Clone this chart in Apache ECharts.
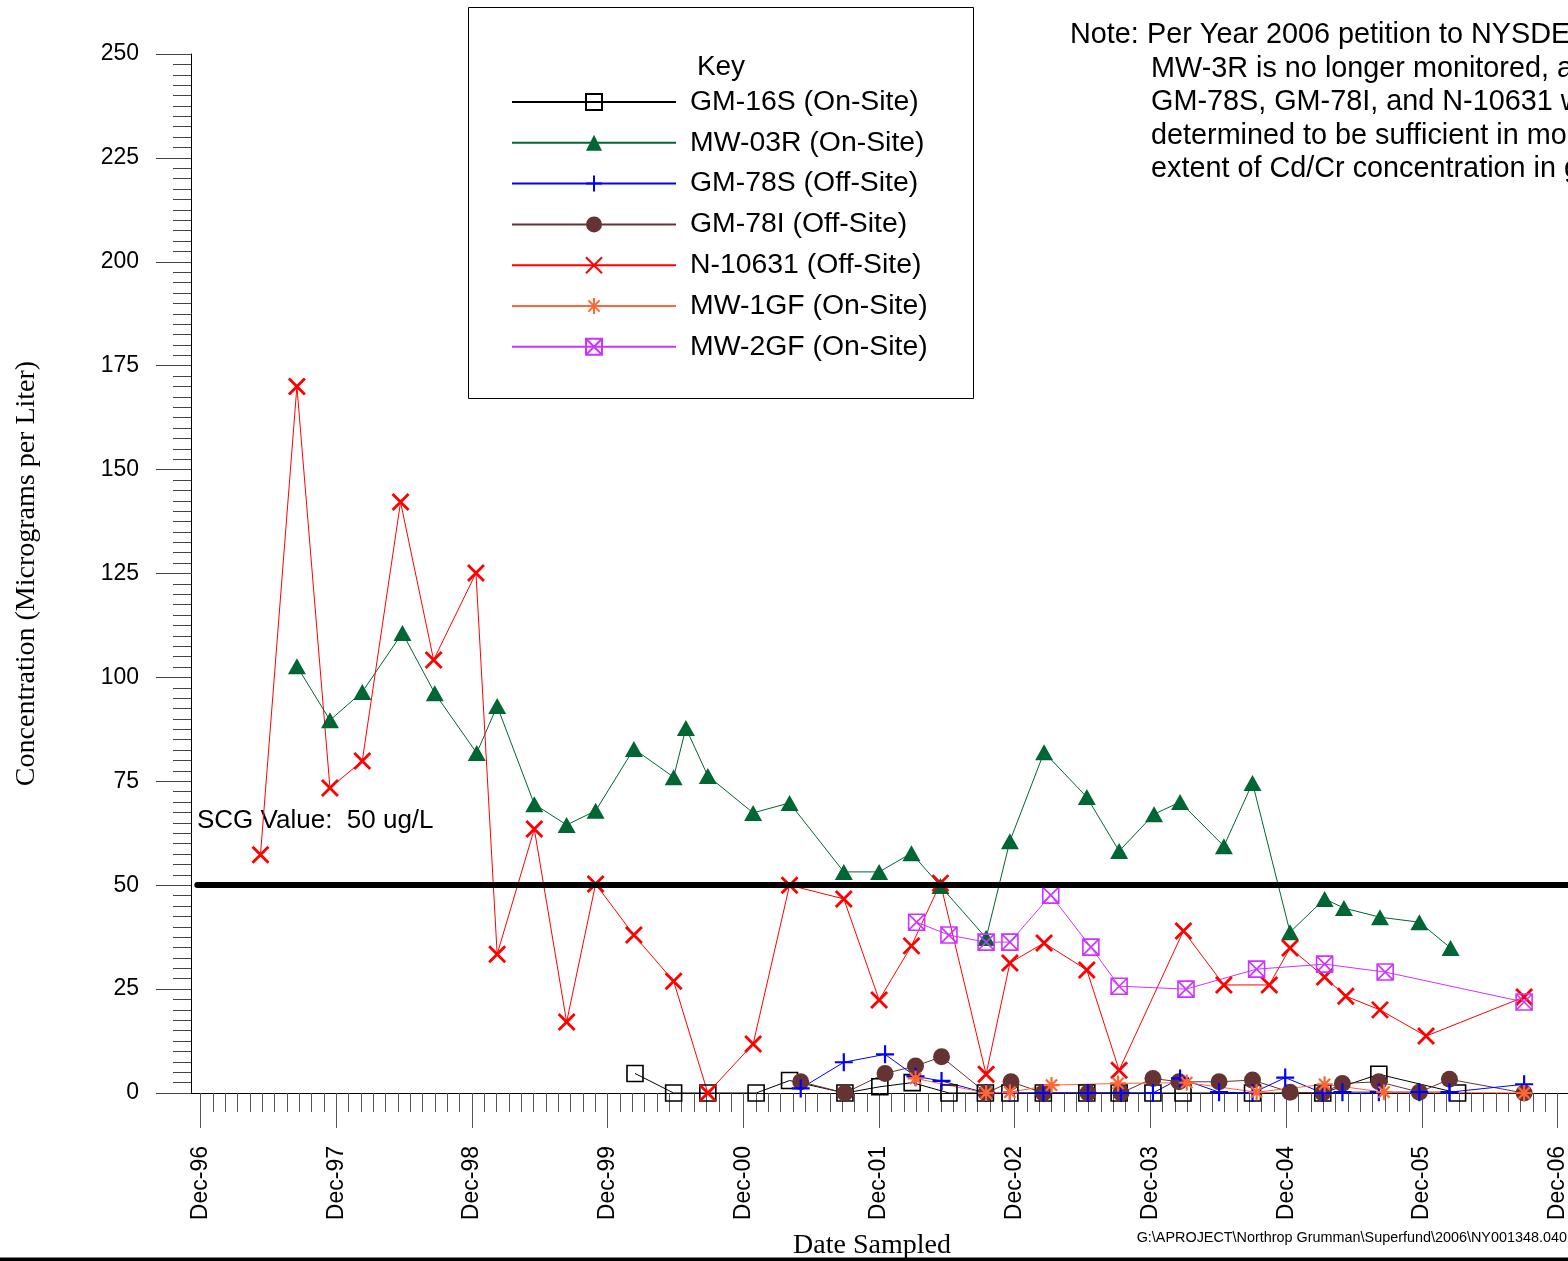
<!DOCTYPE html>
<html>
<head>
<meta charset="utf-8">
<script src="https://cdn.jsdelivr.net/npm/echarts@6/dist/echarts.min.js"></script>
<style>
  html, body { margin: 0; padding: 0; background: #ffffff; }
  #chart { width: 1568px; height: 1261px; }
</style>
</head>
<body>
<div id="chart"></div>
<script>
// ---- Sampling results, Cd/Cr concentration in ug/L ----
const gm16s = [
  ['2000-02-13', 4.7], ['2000-05-27', 0], ['2000-08-27', 0], ['2001-01-04', 0],
  ['2001-04-04', 3.0], ['2001-08-31', 0], ['2001-12-03', 1.5], ['2002-02-28', 2.5],
  ['2002-06-07', 0], ['2002-09-13', 0], ['2002-11-18', 0], ['2003-02-16', 0],
  ['2003-06-13', 0], ['2003-09-08', 0], ['2003-12-08', 0], ['2004-02-27', 0],
  ['2004-09-01', 0], ['2005-03-09', 0], ['2005-08-07', 4.5], ['2006-03-07', 0]
];
const mw03r = [
  ['1997-08-17', 102.7], ['1997-11-14', 89.7], ['1998-02-09', 96.5], ['1998-05-28', 110.7],
  ['1998-08-23', 96.2], ['1998-12-14', 81.8], ['1999-02-07', 93.1], ['1999-05-18', 69.5],
  ['1999-08-13', 64.5], ['1999-10-30', 67.9], ['2000-02-10', 82.8], ['2000-05-27', 76.0],
  ['2000-06-29', 87.8], ['2000-08-27', 76.3], ['2000-12-27', 67.4], ['2001-04-04', 69.8],
  ['2001-08-28', 53.2], ['2001-12-01', 53.2], ['2002-02-26', 57.7], ['2002-05-15', 49.8],
  ['2002-09-15', 37.3], ['2002-11-18', 60.6], ['2003-02-18', 82.0], ['2003-06-13', 71.2],
  ['2003-09-08', 58.2], ['2003-12-11', 67.1], ['2004-02-19', 70.0], ['2004-06-16', 59.4],
  ['2004-09-01', 74.6], ['2004-12-11', 38.7], ['2005-03-14', 46.7], ['2005-05-05', 44.5],
  ['2005-08-10', 42.3], ['2005-11-24', 41.1], ['2006-02-16', 34.9]
];
const gm78s = [
  ['2001-05-04', 1.1], ['2001-08-28', 7.4], ['2001-12-17', 9.3], ['2002-03-09', 4.0],
  ['2002-05-18', 2.9], ['2002-09-15', 0], ['2002-11-18', 0], ['2003-02-16', 0],
  ['2003-06-16', 0], ['2003-09-13', 0], ['2003-12-08', 0], ['2004-02-19', 3.5],
  ['2004-06-03', 0.2], ['2004-09-01', 0], ['2004-11-28', 3.7], ['2005-03-09', 0],
  ['2005-05-01', 0.2], ['2005-08-07', 0.2], ['2005-11-24', 0.2], ['2006-02-13', 0.2],
  ['2006-09-02', 2.1]
];
const gm78i = [
  ['2001-05-04', 2.7], ['2001-08-31', 0], ['2001-12-17', 4.7], ['2002-03-09', 6.5],
  ['2002-05-18', 8.7], ['2002-09-15', 0], ['2002-11-21', 2.7], ['2003-02-16', 0],
  ['2003-06-16', 0], ['2003-09-13', 0], ['2003-12-08', 3.5], ['2004-02-16', 2.7],
  ['2004-06-03', 2.7], ['2004-09-01', 3.1], ['2004-12-11', 0.2], ['2005-03-09', 0],
  ['2005-05-01', 2.3], ['2005-08-07', 2.7], ['2005-11-24', 0.2], ['2006-02-13', 3.3],
  ['2006-09-02', 0]
];
const n10631 = [
  ['1997-05-11', 57.3], ['1997-08-17', 170.0], ['1997-11-14', 73.4], ['1998-02-09', 79.9],
  ['1998-05-23', 142.2], ['1998-08-20', 104.2], ['1998-12-12', 125.1], ['1999-02-07', 33.4],
  ['1999-05-18', 63.5], ['1999-08-13', 17.1], ['1999-10-30', 50.3], ['2000-02-10', 38.0],
  ['2000-05-27', 26.9], ['2000-08-27', 0], ['2000-12-27', 11.8], ['2001-04-04', 50.0],
  ['2001-08-28', 46.7], ['2001-12-01', 22.4], ['2002-02-26', 35.4], ['2002-05-15', 50.5],
  ['2002-09-15', 4.5], ['2002-11-18', 31.3], ['2003-02-18', 36.1], ['2003-06-13', 29.6],
  ['2003-09-08', 5.5], ['2004-02-28', 39.0], ['2004-06-16', 26.0], ['2004-10-16', 26.0],
  ['2004-12-11', 34.9], ['2005-03-14', 27.9], ['2005-05-10', 23.3], ['2005-08-10', 20.0],
  ['2005-12-12', 13.7], ['2006-09-02', 23.1]
];
const mw1gf = [
  ['2002-03-09', 3.5], ['2002-09-15', 0], ['2002-11-18', 0.2], ['2003-03-10', 1.9],
  ['2003-09-05', 2.3], ['2004-03-08', 2.5], ['2004-09-12', 0.2], ['2005-03-14', 2.1],
  ['2005-08-21', 0.2], ['2006-09-02', 0]
];
const mw2gf = [
  ['2002-03-12', 41.1], ['2002-06-07', 38.0], ['2002-09-15', 36.3], ['2002-11-18', 36.3],
  ['2003-03-08', 47.6], ['2003-06-24', 35.1], ['2003-09-08', 25.7], ['2004-03-06', 25.0],
  ['2004-09-12', 29.8], ['2005-03-14', 31.0], ['2005-08-24', 29.1], ['2006-09-02', 21.9]
];

// Standards, Criteria and Guidance value
const scgValue = 50;

// Axis range and ticks
const axisStart = '1996-11-05';
const axisEnd = '2007-03-01';
const scgLineStart = '1996-11-22';
const tickYears = [1996, 1997, 1998, 1999, 2000, 2001, 2002, 2003, 2004, 2005, 2006, 2007];
const yMin = 0, yMax = 250, yStep = 25;

const noteLines = [
  'Per Year 2006 petition to NYSDEC,',
  'MW-3R is no longer monitored, and',
  'GM-78S, GM-78I, and N-10631 were',
  'determined to be sufficient in monitoring',
  'extent of Cd/Cr concentration in groundwater.'
];
const filePath = 'G:\\APROJECT\\Northrop Grumman\\Superfund\\2006\\NY001348.040';

// ---- helpers ----
const toTime = s => { const p = s.split('-').map(Number); return new Date(p[0], p[1] - 1, p[2]).getTime(); };
const toPoints = arr => arr.map(d => [toTime(d[0]), d[1]]);

const majorTicks = tickYears.map(y => new Date(y, 11, 1).getTime());
const minorTicks = [];
for (let i = 0; i < majorTicks.length - 1; i++) {
  const a = majorTicks[i], b = majorTicks[i + 1];
  for (let k = 1; k < 11; k++) minorTicks.push(a + (b - a) * k / 11);
}

const SANS = '"Liberation Sans", Arial, Helvetica, sans-serif';
const SERIF = '"Liberation Serif", "Times New Roman", serif';

const SYM_PLUS = 'path://M0,5L10,5M5,0L5,10';
const SYM_CROSS = 'path://M0,0L10,10M10,0L0,10';
const SYM_STAR = 'path://M5,0L5,10M0,5L10,5M1.5,1.5L8.5,8.5M8.5,1.5L1.5,8.5';
const SYM_BOXCROSS = 'path://M0,0L10,0L10,10L0,10ZM0,0L10,10M10,0L0,10';

function lineSeries(name, data, color, symbol, size, fill, borderWidth) {
  return {
    name: name,
    type: 'line',
    data: toPoints(data),
    symbol: symbol,
    symbolSize: size,
    showAllSymbol: true,
    lineStyle: { color: color, width: 1 },
    itemStyle: { color: fill, borderColor: color, borderWidth: borderWidth },
    emphasis: { disabled: true },
    silent: true,
    z: 3
  };
}

const names = [
  'GM-16S (On-Site)', 'MW-03R (On-Site)', 'GM-78S (Off-Site)', 'GM-78I (Off-Site)',
  'N-10631 (Off-Site)', 'MW-1GF (On-Site)', 'MW-2GF (On-Site)'
];

const chart = echarts.init(document.getElementById('chart'), null, { renderer: 'canvas' });

const dateAxisBase = {
  type: 'value',
  min: toTime(axisStart),
  max: toTime(axisEnd),
  position: 'bottom',
  splitLine: { show: false },
  minorTick: { show: false },
  minorSplitLine: { show: false }
};

const option = {
  animation: false,
  backgroundColor: '#ffffff',
  // the plotting area runs past the right edge of the page
  grid: { left: 191, top: 54, width: 1400, height: 1039, containLabel: false, outerBoundsMode: 'none' },
  xAxis: [
    Object.assign({}, dateAxisBase, {
      axisLine: { show: true, onZero: false, lineStyle: { color: '#000', width: 1 } },
      axisTick: { show: true, customValues: majorTicks, length: 35, lineStyle: { color: '#555', width: 1 } },
      axisLabel: {
        show: true, customValues: majorTicks, rotate: 90, margin: 53,
        fontSize: 23, fontFamily: SANS, color: '#000',
        formatter: v => 'Dec-' + String(new Date(v).getFullYear()).slice(2)
      }
    }),
    Object.assign({}, dateAxisBase, {
      axisLine: { show: false, onZero: false },
      axisTick: { show: true, customValues: minorTicks, length: 19, lineStyle: { color: '#555', width: 1 } },
      axisLabel: { show: false }
    })
  ],
  yAxis: {
    type: 'value',
    min: yMin, max: yMax, interval: yStep,
    name: 'Concentration (Micrograms per Liter)',
    nameLocation: 'middle',
    nameGap: 150,
    nameTextStyle: { fontSize: 28, fontFamily: SERIF, color: '#000' },
    axisLine: { show: true, onZero: false, lineStyle: { color: '#000', width: 1 } },
    axisTick: { show: true, length: 35, lineStyle: { color: '#444', width: 1 } },
    minorTick: { show: true, splitNumber: 10, length: 18, lineStyle: { color: '#444', width: 1 } },
    axisLabel: { margin: 52, fontSize: 23, fontFamily: SANS, color: '#000' },
    splitLine: { show: false },
    minorSplitLine: { show: false }
  },
  legend: {
    orient: 'vertical',
    left: 511, top: 88,
    padding: 0,
    itemWidth: 164, itemHeight: 20, itemGap: 12.8,
    selectedMode: false,
    data: names,
    textStyle: { fontSize: 28.4, lineHeight: 28, fontFamily: SANS, color: '#000', padding: [0, 0, 0, 9] }
  },
  series: [
    lineSeries(names[0], gm16s, '#000000', 'rect', 16, 'rgba(255,255,255,0)', 1.6),
    lineSeries(names[1], mw03r, '#006633', 'triangle', [18, 16], '#006633', 0),
    lineSeries(names[3], gm78i, '#663333', 'circle', 17, '#663333', 0),
    lineSeries(names[2], gm78s, '#0000FF', SYM_PLUS, 18, 'rgba(0,0,0,0)', 2.2),
    lineSeries(names[4], n10631, '#FF0000', SYM_CROSS, 16, 'rgba(0,0,0,0)', 2.8),
    lineSeries(names[5], mw1gf, '#FF6633', SYM_STAR, 16, 'rgba(0,0,0,0)', 2.2),
    lineSeries(names[6], mw2gf, '#CC33FF', SYM_BOXCROSS, 16, 'rgba(0,0,0,0)', 1.6),
    {
      name: 'SCG',
      type: 'line',
      data: [],
      silent: true,
      markLine: {
        silent: true,
        symbol: ['none', 'none'],
        label: { show: false },
        lineStyle: { color: '#000', width: 6, type: 'solid', cap: 'round' },
        data: [[{ coord: [toTime(scgLineStart), scgValue] }, { coord: [toTime(axisEnd), scgValue] }]]
      },
      z: 2
    }
  ],
  graphic: [
    { type: 'rect', shape: { x: 468.5, y: 7.5, width: 505, height: 391 },
      style: { fill: 'none', stroke: '#000', lineWidth: 1 }, z: 1 },
    { type: 'text', x: 721, y: 67,
      style: { text: 'Key', font: '28px ' + SANS, fill: '#000', align: 'center', verticalAlign: 'middle' } },
    { type: 'text', x: 197, y: 821,
      style: { text: 'SCG Value:  ' + scgValue + ' ug/L', font: '26px ' + SANS, fill: '#000', align: 'left', verticalAlign: 'middle' } },
    { type: 'text', x: 1070, y: 35,
      style: { text: 'Note:', font: '28.8px ' + SANS, fill: '#000', align: 'left', verticalAlign: 'middle' } }
  ].concat(noteLines.map((t, i) => ({
    type: 'text', x: i === 0 ? 1147 : 1151, y: 35 + i * 33.6,
    style: { text: t, font: '28.8px ' + SANS, fill: '#000', align: 'left', verticalAlign: 'middle' }
  }))).concat([
    { type: 'text', x: 872, y: 1246,
      style: { text: 'Date Sampled', font: '28px ' + SERIF, fill: '#000', align: 'center', verticalAlign: 'middle' } },
    { type: 'text', x: 1567, y: 1238,
      style: { text: filePath, font: '14.4px ' + SANS, fill: '#000', align: 'right', verticalAlign: 'middle' } },
    { type: 'rect', shape: { x: 0, y: 1257.5, width: 1568, height: 4 }, style: { fill: '#000' }, z: 10 }
  ])
};

chart.setOption(option);
</script>
</body>
</html>
